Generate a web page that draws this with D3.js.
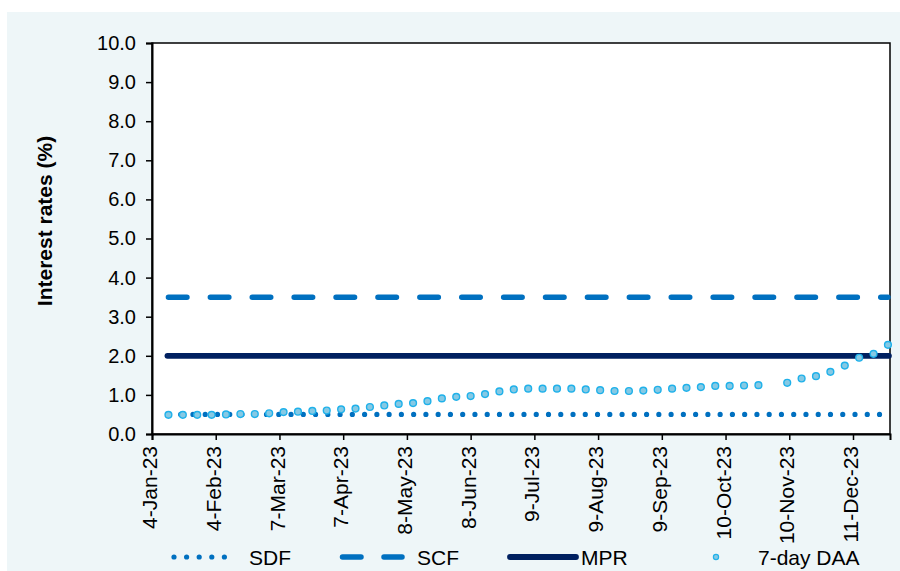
<!DOCTYPE html>
<html>
<head>
<meta charset="utf-8">
<script src="https://cdn.jsdelivr.net/npm/d3@7/dist/d3.min.js"></script>
<style>
  html, body { margin: 0; padding: 0; background: #ffffff; }
  svg { display: block; font-family: "Liberation Sans", Arial, sans-serif; }
</style>
</head>
<body>
<svg id="chart" width="900" height="571"></svg>
<script>
// Weekly observation dates for the 7-day DAA (2 Nov not reported)
const daaDates = [
  "2023-01-12","2023-01-19","2023-01-26","2023-02-02","2023-02-09","2023-02-16","2023-02-23",
  "2023-03-02","2023-03-09","2023-03-16","2023-03-23","2023-03-30","2023-04-06","2023-04-13",
  "2023-04-20","2023-04-27","2023-05-04","2023-05-11","2023-05-18","2023-05-25","2023-06-01",
  "2023-06-08","2023-06-15","2023-06-22","2023-06-29","2023-07-06","2023-07-13","2023-07-20",
  "2023-07-27","2023-08-03","2023-08-10","2023-08-17","2023-08-24","2023-08-31","2023-09-07",
  "2023-09-14","2023-09-21","2023-09-28","2023-10-05","2023-10-12","2023-10-19","2023-10-26",
  "2023-11-09","2023-11-16","2023-11-23","2023-11-30","2023-12-07","2023-12-14","2023-12-21",
  "2023-12-28"
];
const daaValues = [
  0.49,0.49,0.49,0.49,0.50,0.51,0.51,
  0.53,0.56,0.57,0.59,0.60,0.63,0.65,
  0.69,0.73,0.77,0.79,0.84,0.91,0.95,
  0.97,1.02,1.09,1.14,1.16,1.16,1.16,
  1.16,1.14,1.12,1.10,1.10,1.11,1.13,
  1.16,1.18,1.20,1.23,1.23,1.24,1.25,
  1.31,1.42,1.48,1.59,1.75,1.95,2.05,
  2.28
];

// Policy corridor rates, constant over the year
const policyStart = "2023-01-12";
const policyEnd = "2023-12-28";
const sdfRate = 0.5;
const scfRate = 3.5;
const mprRate = 2.0;

const xDomain = ["2023-01-04", "2023-12-29"];
const xTickDates = ["2023-01-04","2023-02-04","2023-03-07","2023-04-07","2023-05-08","2023-06-08",
                    "2023-07-09","2023-08-09","2023-09-09","2023-10-10","2023-11-10","2023-12-11"];
const yTicks = [0,1,2,3,4,5,6,7,8,9,10];

const legendItems = ["SDF", "SCF", "MPR", "7-day DAA"];

const parse = d3.timeParse("%Y-%m-%d");
const fmtDate = d3.timeFormat("%-d-%b-%y");

const C = {
  sdf: "#0070c0",
  scf: "#0070c0",
  mpr: "#002060",
  daaFill: "#86c9e4",
  daaStroke: "#1fb1ea",
  bg: "#eef6f8"
};

const svg = d3.select("#chart");
const plot = { left: 152, right: 890, top: 43, bottom: 434 };

svg.append("rect").attr("x", 7).attr("y", 12).attr("width", 893).attr("height", 559).attr("fill", C.bg);
svg.append("rect")
  .attr("x", plot.left).attr("y", plot.top)
  .attr("width", plot.right - plot.left).attr("height", plot.bottom - plot.top)
  .attr("fill", "#ffffff").attr("stroke", "#000").attr("stroke-width", 1.5);

const x = d3.scaleTime().domain(xDomain.map(parse)).range([plot.left, plot.right]);
const y = d3.scaleLinear().domain([0, 10]).range([plot.bottom, plot.top]);

// Y axis
const yAxis = svg.append("g").attr("transform", `translate(${plot.left},0)`)
  .call(d3.axisLeft(y).tickValues(yTicks).tickFormat(d3.format(".1f")).tickSize(6).tickPadding(10));
yAxis.select(".domain").attr("stroke", "#000").attr("stroke-width", 2);
yAxis.selectAll(".tick line").attr("stroke", "#000").attr("stroke-width", 1.5);
yAxis.selectAll(".tick text").attr("font-size", 20).attr("fill", "#000")
  .attr("font-family", "Liberation Sans, Arial, sans-serif");

// X axis
const xAxis = svg.append("g").attr("transform", `translate(0,${plot.bottom})`)
  .call(d3.axisBottom(x).tickValues(xTickDates.map(parse)).tickFormat(fmtDate).tickSize(6));
xAxis.select(".domain").attr("stroke", "#000").attr("stroke-width", 2);
xAxis.selectAll(".tick line").attr("stroke", "#000").attr("stroke-width", 1.5);
xAxis.selectAll(".tick text")
  .attr("font-size", 21).attr("fill", "#000")
  .attr("font-family", "Liberation Sans, Arial, sans-serif")
  .attr("text-anchor", "end")
  .attr("transform", "rotate(-90)")
  .attr("x", -12).attr("y", 0).attr("dy", "0.22em");

// Y axis title
svg.append("text")
  .attr("transform", "translate(52,221) rotate(-90)")
  .attr("text-anchor", "middle")
  .attr("font-size", 21).attr("font-weight", "bold").attr("fill", "#000")
  .text("Interest rates (%)");

const x0 = x(parse(policyStart)), x1 = x(parse(policyEnd));

// SDF: dotted line
svg.append("line")
  .attr("x1", x0).attr("x2", x1).attr("y1", y(sdfRate)).attr("y2", y(sdfRate))
  .attr("stroke", C.sdf).attr("stroke-width", 5.2)
  .attr("stroke-linecap", "round").attr("stroke-dasharray", "0 12.26");

// SCF: long dashes
svg.append("line")
  .attr("x1", x0).attr("x2", x1).attr("y1", y(scfRate)).attr("y2", y(scfRate))
  .attr("stroke", C.scf).attr("stroke-width", 5.5)
  .attr("stroke-linecap", "round").attr("stroke-dasharray", "18.5 23.4");

// MPR: solid line
svg.append("line")
  .attr("x1", x0 - 1).attr("x2", x1 + 1).attr("y1", y(mprRate)).attr("y2", y(mprRate))
  .attr("stroke", C.mpr).attr("stroke-width", 5.8)
  .attr("stroke-linecap", "round");

// 7-day DAA markers
svg.append("g").selectAll("circle")
  .data(daaDates.map((d, i) => ({ date: parse(d), v: daaValues[i] })))
  .join("circle")
  .attr("cx", d => x(d.date)).attr("cy", d => y(d.v)).attr("r", 3.4)
  .attr("fill", C.daaFill).attr("stroke", C.daaStroke).attr("stroke-width", 1.4);

// Legend
const ly = 557;
const lg = svg.append("g").attr("font-family", "Liberation Sans, Arial, sans-serif").attr("font-size", 21);
lg.append("line").attr("x1", 174).attr("x2", 237).attr("y1", ly).attr("y2", ly)
  .attr("stroke", C.sdf).attr("stroke-width", 5.2).attr("stroke-linecap", "round").attr("stroke-dasharray", "0 12.6");
lg.append("text").attr("x", 249).attr("y", ly).attr("dy", "0.36em").text(legendItems[0]);
lg.append("line").attr("x1", 342.5).attr("x2", 402).attr("y1", ly).attr("y2", ly)
  .attr("stroke", C.scf).attr("stroke-width", 5.5).attr("stroke-linecap", "round").attr("stroke-dasharray", "18.5 23");
lg.append("text").attr("x", 417).attr("y", ly).attr("dy", "0.36em").text(legendItems[1]);
lg.append("line").attr("x1", 510).attr("x2", 576).attr("y1", ly).attr("y2", ly)
  .attr("stroke", C.mpr).attr("stroke-width", 5.8).attr("stroke-linecap", "round");
lg.append("text").attr("x", 581).attr("y", ly).attr("dy", "0.36em").text(legendItems[2]);
lg.append("circle").attr("cx", 716).attr("cy", ly).attr("r", 2.6)
  .attr("fill", C.daaFill).attr("stroke", C.daaStroke).attr("stroke-width", 1.2);
lg.append("text").attr("x", 758).attr("y", ly).attr("dy", "0.36em").text(legendItems[3]);
</script>
</body>
</html>
